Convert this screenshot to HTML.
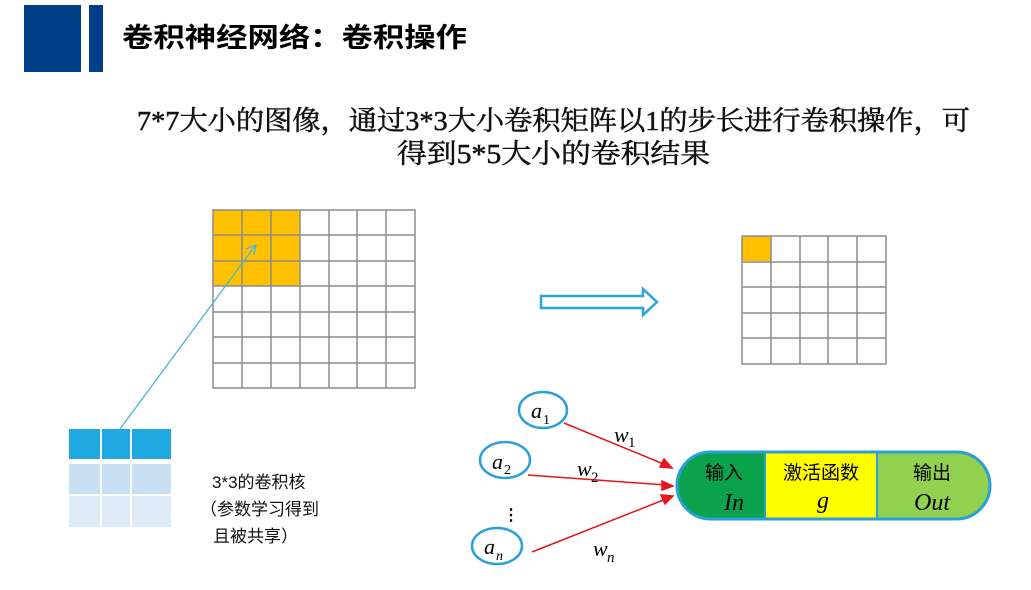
<!DOCTYPE html>
<html><head><meta charset="utf-8"><style>
html,body{margin:0;padding:0;background:#fff;width:1031px;height:590px;overflow:hidden}
svg{display:block}
.cjk{font-family:"Liberation Serif","Noto Serif CJK SC","Noto Sans CJK SC",serif}
.sans{font-family:"Liberation Sans","Noto Sans CJK SC",sans-serif}
.it{font-family:"Liberation Serif",serif;font-style:italic}
</style></head><body>
<svg width="1031" height="590" viewBox="0 0 1031 590" xmlns="http://www.w3.org/2000/svg">
<rect x="24" y="5" width="57" height="67" fill="#003f87"/>
<rect x="89" y="5" width="14" height="67" fill="#003f87"/>
<text x="122" y="47" class="sans" font-size="27" font-weight="bold" fill="#000" textLength="345" lengthAdjust="spacingAndGlyphs">卷积神经网络：卷积操作</text>
<text x="137" y="130" class="cjk" font-size="27" fill="#111" stroke="#111" stroke-width="0.5" textLength="833" lengthAdjust="spacingAndGlyphs">7*7大小的图像，通过3*3大小卷积矩阵以1的步长进行卷积操作，可</text>
<text x="397" y="163" class="cjk" font-size="27" fill="#111" stroke="#111" stroke-width="0.5" textLength="313" lengthAdjust="spacingAndGlyphs">得到5*5大小的卷积结果</text>

<rect x="213" y="210" width="87" height="76" fill="#ffc000"/>
<g stroke="#8c8c8c" stroke-width="1.5" fill="none">
<rect x="213" y="210" width="202" height="178"/>
<path d="M242 210V388M271 210V388M300 210V388M329 210V388M357 210V388M386 210V388
M213 235H415M213 261H415M213 286H415M213 312H415M213 337H415M213 363H415"/>
</g>
<g>
<rect x="69" y="429" width="31" height="30" fill="#1fa9e1"/><rect x="102" y="429" width="28" height="30" fill="#1fa9e1"/><rect x="132" y="429" width="39" height="30" fill="#1fa9e1"/>
<rect x="69" y="464" width="31" height="30" fill="#c9dff2"/><rect x="102" y="464" width="28" height="30" fill="#c9dff2"/><rect x="132" y="464" width="39" height="30" fill="#c9dff2"/>
<rect x="69" y="496" width="31" height="31" fill="#deebf7"/><rect x="102" y="496" width="28" height="31" fill="#deebf7"/><rect x="132" y="496" width="39" height="31" fill="#deebf7"/>
</g>
<line x1="120" y1="429" x2="255" y2="246" stroke="#4bb4d6" stroke-width="1.3"/>
<path d="M246 249L256 245L254 255" fill="none" stroke="#4bb4d6" stroke-width="1.3"/>
<text x="212" y="488" class="sans" font-size="17" fill="#111">3*3的卷积核</text>
<text x="200" y="515" class="sans" font-size="17" fill="#111">（参数学习得到</text>
<text x="213" y="542" class="sans" font-size="17" fill="#111">且被共享）</text>

<path d="M541 296H643V289L657 302L643 315V308H541Z" fill="#fff" stroke="#2aa6dd" stroke-width="2.5"/>

<rect x="742" y="236" width="29" height="25" fill="#ffc000"/>
<g stroke="#8c8c8c" stroke-width="1.5" fill="none">
<rect x="742" y="236" width="144" height="128"/>
<path d="M771 236V364M800 236V364M828 236V364M857 236V364M742 262H886M742 287H886M742 313H886M742 338H886"/>
</g>

<g fill="#fff" stroke="#2a9fd8" stroke-width="2.5">
<ellipse cx="543" cy="410" rx="24" ry="18"/>
<ellipse cx="505" cy="460" rx="25" ry="18"/>
<ellipse cx="497" cy="546" rx="25" ry="18"/>
</g>
<text x="531" y="418" class="it" font-size="22">a</text><text x="543" y="424" font-family="Liberation Serif" font-size="14">1</text>
<text x="492" y="469" class="it" font-size="22">a</text><text x="504" y="474" font-family="Liberation Serif" font-size="14">2</text>
<text x="484" y="554" class="it" font-size="22">a</text><text x="496" y="560" class="it" font-size="14">n</text>
<text x="503" y="520" font-family="Liberation Sans" font-size="16" font-weight="bold">⋮</text>
<g stroke="#e8141e" stroke-width="1.5" fill="#e8141e">
<line x1="564" y1="423" x2="666" y2="465"/><path d="M672 468L660 467L664 459Z"/>
<line x1="528" y1="475" x2="666" y2="485"/><path d="M673 486L662 490L662 481Z"/>
<line x1="532" y1="552" x2="666" y2="499"/><path d="M673 496L665 504L661 495Z"/>
</g>
<text x="614" y="442" class="it" font-size="22">w</text><text x="628" y="447" font-family="Liberation Serif" font-size="15">1</text>
<text x="577" y="476" class="it" font-size="22">w</text><text x="591" y="482" font-family="Liberation Serif" font-size="15">2</text>
<text x="593" y="556" class="it" font-size="22">w</text><text x="607" y="562" class="it" font-size="15">n</text>

<clipPath id="cap"><rect x="677" y="452" width="313" height="67" rx="33.5"/></clipPath>
<g clip-path="url(#cap)">
<rect x="677" y="452" width="88" height="67" fill="#0aa24a"/>
<rect x="765" y="452" width="112" height="67" fill="#ffff00"/>
<rect x="877" y="452" width="113" height="67" fill="#92d050"/>
</g>
<line x1="765" y1="452" x2="765" y2="519" stroke="#2a9fd8" stroke-width="2"/>
<line x1="877" y1="452" x2="877" y2="519" stroke="#2a9fd8" stroke-width="2"/>
<rect x="677" y="452" width="313" height="67" rx="33.5" fill="none" stroke="#2a9fd8" stroke-width="3"/>
<text x="724" y="479" text-anchor="middle" class="sans" font-size="19">输入</text>
<text x="734" y="510" text-anchor="middle" class="it" font-size="24">In</text>
<text x="821" y="479" text-anchor="middle" class="sans" font-size="19">激活函数</text>
<text x="823" y="508" text-anchor="middle" class="it" font-size="24">g</text>
<text x="932" y="479" text-anchor="middle" class="sans" font-size="19">输出</text>
<text x="932" y="510" text-anchor="middle" class="it" font-size="24">Out</text>
</svg>
</body></html>
